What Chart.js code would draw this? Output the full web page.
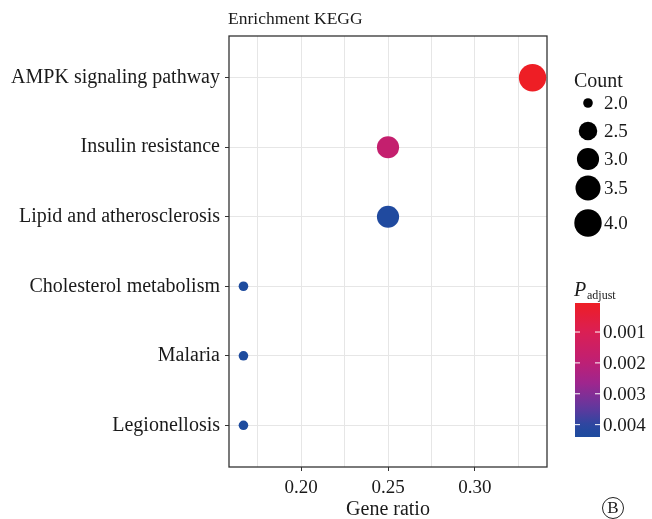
<!DOCTYPE html>
<html>
<head>
<meta charset="utf-8">
<script src="https://cdn.jsdelivr.net/npm/chart.js@4.4.1/dist/chart.umd.min.js"></script>
<style>
  html, body { margin: 0; padding: 0; background: #ffffff; }
  #wrap { width: 652px; height: 519px; position: relative; }
</style>
</head>
<body>
<div id="wrap"><canvas id="c" width="652" height="519"></canvas></div>
<script>
// ---- data ----
const categories = ["AMPK signaling pathway", "Insulin resistance", "Lipid and atherosclerosis",
                    "Cholesterol metabolism", "Malaria", "Legionellosis"];
const geneRatio = [0.3333, 0.25, 0.25, 0.1667, 0.1667, 0.1667];
const counts = [4, 3, 3, 2, 2, 2];
const pAdjust = [0.00006, 0.0018, 0.0043, 0.0044, 0.0044, 0.0044];
const xMajorTicks = [0.20, 0.25, 0.30];
const xMinorTicks = [0.175, 0.225, 0.275, 0.325];
const countLegend = [2.0, 2.5, 3.0, 3.5, 4.0];
const pTicks = [0.001, 0.002, 0.003, 0.004];

const FONT = "'Liberation Serif', 'DejaVu Serif', serif";
const TEXT = '#1a1a1a';

const cMin = Math.min(...counts), cMax = Math.max(...counts);
function radius(c) {
  const t = (c - cMin) / (cMax - cMin);
  return 4.8 + 8.9 * Math.sqrt(t);
}
const pMin = Math.min(...pAdjust), pMax = Math.max(...pAdjust);
const colorStops = [
  [0.00, [238, 30, 37]],
  [0.22, [218, 31, 85]],
  [0.42, [194, 31, 113]],
  [0.60, [158, 38, 142]],
  [0.78, [98, 56, 158]],
  [0.92, [40, 72, 160]],
  [1.00, [29, 75, 158]]
];
function colorAt(t) {
  t = Math.max(0, Math.min(1, t));
  for (let i = 0; i < colorStops.length - 1; i++) {
    const [t0, c0] = colorStops[i], [t1, c1] = colorStops[i + 1];
    if (t <= t1) {
      const f = (t - t0) / (t1 - t0);
      const c = c0.map((v, k) => Math.round(v + (c1[k] - v) * f));
      return `rgb(${c[0]},${c[1]},${c[2]})`;
    }
  }
  const c = colorStops[colorStops.length - 1][1];
  return `rgb(${c[0]},${c[1]},${c[2]})`;
}
function pColor(p) { return colorAt((p - pMin) / (pMax - pMin)); }

const isMajor = v => xMajorTicks.some(m => Math.abs(m - v) < 1e-9);

const points = categories.map((c, i) => ({ x: geneRatio[i], y: i + 1, r: radius(counts[i]) }));

const xRange = Math.max(...geneRatio) - Math.min(...geneRatio);
const xMin = Math.min(...geneRatio) - 0.05 * xRange;
const xMax = Math.max(...geneRatio) + 0.05 * xRange;

const decor = {
  id: 'decor',
  beforeDatasetsDraw(chart) {
    const { ctx, chartArea: a } = chart;
    ctx.save();
    ctx.strokeStyle = '#333333';
    ctx.lineWidth = 1.3;
    ctx.strokeRect(a.left, a.top, a.right - a.left, a.bottom - a.top);
    ctx.restore();
  },
  afterDraw(chart) {
    const { ctx, chartArea: a } = chart;
    ctx.save();
    ctx.fillStyle = TEXT;
    // title
    ctx.font = `17.5px ${FONT}`;
    ctx.textAlign = 'left';
    ctx.textBaseline = 'alphabetic';
    ctx.fillText('Enrichment KEGG', a.left - 1, 24);
    // x title
    ctx.font = `20px ${FONT}`;
    ctx.textAlign = 'center';
    ctx.fillText('Gene ratio', (a.left + a.right) / 2, 515);
    // circled B
    ctx.beginPath();
    ctx.arc(613, 508, 10.5, 0, Math.PI * 2);
    ctx.strokeStyle = '#222';
    ctx.lineWidth = 1;
    ctx.stroke();
    ctx.font = `17px ${FONT}`;
    ctx.textBaseline = 'middle';
    ctx.fillText('B', 613, 509);

    // Count legend
    ctx.textAlign = 'left';
    ctx.textBaseline = 'alphabetic';
    ctx.font = `20px ${FONT}`;
    ctx.fillText('Count', 574, 87);
    const rowsY = [103, 131, 159, 188, 223];
    ctx.font = `19px ${FONT}`;
    ctx.textBaseline = 'middle';
    countLegend.forEach((c, i) => {
      ctx.beginPath();
      ctx.fillStyle = '#000';
      ctx.arc(588, rowsY[i], radius(c), 0, Math.PI * 2);
      ctx.fill();
      ctx.fillStyle = TEXT;
      ctx.fillText(c.toFixed(1), 604, rowsY[i] + 1);
    });

    // P adjust title
    ctx.textBaseline = 'alphabetic';
    ctx.font = `italic 20px ${FONT}`;
    ctx.fillText('P', 574, 296);
    ctx.font = `12px ${FONT}`;
    ctx.fillText('adjust', 587, 299);

    // colorbar
    const bx = 575, bw = 25, by0 = 303, by1 = 437;
    const g = ctx.createLinearGradient(0, by0, 0, by1);
    for (let k = 0; k <= 20; k++) g.addColorStop(k / 20, colorAt(k / 20));
    ctx.fillStyle = g;
    ctx.fillRect(bx, by0, bw, by1 - by0);
    ctx.font = `19px ${FONT}`;
    ctx.textBaseline = 'middle';
    pTicks.forEach(p => {
      const y = by0 + (p - pMin) / (pMax - pMin) * (by1 - by0);
      ctx.strokeStyle = '#ffffff';
      ctx.lineWidth = 1;
      ctx.beginPath();
      ctx.moveTo(bx, y); ctx.lineTo(bx + 5, y);
      ctx.moveTo(bx + bw - 5, y); ctx.lineTo(bx + bw, y);
      ctx.stroke();
      ctx.fillStyle = TEXT;
      ctx.fillText(p.toFixed(3), bx + bw + 3, y + 1);
    });
    ctx.restore();
  }
};

new Chart(document.getElementById('c'), {
  type: 'bubble',
  data: {
    datasets: [{
      data: points,
      backgroundColor: pAdjust.map(pColor),
      borderWidth: 0,
      hoverBorderWidth: 0
    }]
  },
  options: {
    responsive: false,
    animation: false,
    events: [],
    layout: { padding: { left: 0, top: 36, right: 105, bottom: 0 } },
    plugins: { legend: { display: false }, tooltip: { enabled: false }, title: { display: false } },
    scales: {
      x: {
        type: 'linear',
        min: xMin,
        max: xMax,
        afterBuildTicks: s => { s.ticks = [...xMinorTicks, ...xMajorTicks].sort((a, b) => a - b).map(v => ({ value: v })); },
        afterFit: s => { s.height = 52; },
        border: { display: false },
        grid: {
          color: '#e6e6e6',
          lineWidth: 1,
          tickLength: 4,
          tickColor: ctx => (ctx.tick && isMajor(ctx.tick.value)) ? '#333333' : 'rgba(0,0,0,0)'
        },
        ticks: {
          autoSkip: false,
          maxRotation: 0,
          padding: 6,
          color: TEXT,
          font: { family: FONT, size: 19 },
          callback: v => isMajor(v) ? v.toFixed(2) : ''
        }
      },
      y: {
        type: 'linear',
        reverse: true,
        min: 0.4,
        max: categories.length + 0.6,
        afterBuildTicks: s => { s.ticks = categories.map((c, i) => ({ value: i + 1 })); },
        afterFit: s => { s.width = 229; },
        border: { display: false },
        grid: { color: '#e6e6e6', lineWidth: 1, tickLength: 4, tickColor: '#333333' },
        ticks: {
          autoSkip: false,
          padding: 5,
          color: TEXT,
          font: { family: FONT, size: 20 },
          callback: v => categories[Math.round(v) - 1]
        }
      }
    }
  },
  plugins: [decor]
});
</script>
</body>
</html>
